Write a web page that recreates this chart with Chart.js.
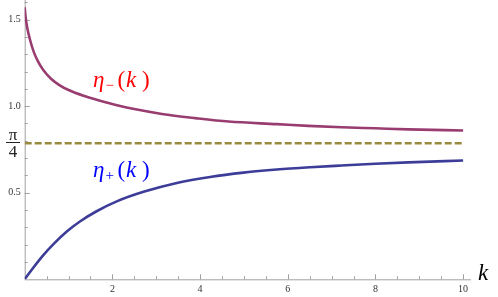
<!DOCTYPE html>
<html>
<head>
<meta charset="utf-8">
<script src="https://cdn.jsdelivr.net/npm/chart.js@4"></script>
<style>
  html, body { margin: 0; padding: 0; background: #ffffff; }
  #wrap { width: 498px; height: 297px; }
</style>
</head>
<body>
<div id="wrap"><canvas id="c" width="498" height="297"></canvas></div>
<script>
// ---- data ----
const kMinus   = [0, 0.02, 0.06, 0.12, 0.2, 0.3, 0.42, 0.6, 0.8, 1.0, 1.34, 1.7, 2.13, 2.5, 3.13, 3.89, 4.65, 5.75, 6.47, 7.23, 8, 8.75, 10];
const etaMinus = [1.571, 1.515, 1.45, 1.385, 1.318, 1.26, 1.21, 1.158, 1.12, 1.093, 1.060, 1.033, 1.004, 0.983, 0.955, 0.931, 0.911, 0.896, 0.886, 0.878, 0.872, 0.866, 0.859];
const kPlus    = [0, 0.2, 0.42, 0.65, 0.96, 1.26, 1.64, 2.1, 2.71, 3.47, 4.23, 4.99, 5.75, 6.51, 7.23, 8, 8.75, 10];
const etaPlus  = [0, 0.068, 0.138, 0.202, 0.276, 0.334, 0.393, 0.450, 0.505, 0.556, 0.591, 0.616, 0.634, 0.647, 0.657, 0.667, 0.675, 0.686];
const kRefLine = [0, 10];
const piQuarterValue = Math.PI / 4;
const refLine  = [piQuarterValue, piQuarterValue];

const xMajorTicks  = [2, 4, 6, 8, 10];
const xTickLabels  = ['2', '4', '6', '8', '10'];
const yMajorTicks  = [0.5, 1.0, 1.5];
const yTickLabels  = ['0.5', '1.0', '1.5'];
const xMinorTicks  = [0.5,1,1.5,2.5,3,3.5,4.5,5,5.5,6.5,7,7.5,8.5,9,9.5];
const yMinorTicks  = [0.1,0.2,0.3,0.4,0.6,0.7,0.8,0.9,1.1,1.2,1.3,1.4,1.6];
const xAxisTitle   = 'k';
const seriesLabels = [{eta:'η', sub:'−', at:[1.56, 1.112], color:'#ff0000'},
                      {eta:'η', sub:'+', at:[1.56, 0.592], color:'#0000ff'}];

const pts = (xs, ys) => ys.map((v, i) => ({x: xs[i], y: v}));

const SERIF = '"Liberation Serif"';

const axesPlugin = {
  id: 'mmaAxes',
  beforeDatasetsDraw(chart) {
    const ctx = chart.ctx, xs = chart.scales.x, ys = chart.scales.y;
    const x0 = xs.getPixelForValue(0), y0 = ys.getPixelForValue(0);
    const area = chart.chartArea;
    ctx.save();
    ctx.strokeStyle = '#a0a0a0';
    ctx.lineWidth = 1;
    ctx.beginPath();
    ctx.moveTo(area.left, y0 + 0.5); ctx.lineTo(area.right, y0 + 0.5);
    ctx.moveTo(x0 + 0.5, area.top); ctx.lineTo(x0 + 0.5, area.bottom);
    ctx.stroke();
    ctx.beginPath();
    xMajorTicks.forEach(v => { const p = Math.round(xs.getPixelForValue(v)) + 0.5; ctx.moveTo(p, y0); ctx.lineTo(p, y0 - 5); });
    xMinorTicks.forEach(v => { const p = Math.round(xs.getPixelForValue(v)) + 0.5; ctx.moveTo(p, y0); ctx.lineTo(p, y0 - 3); });
    yMajorTicks.forEach(v => { const p = Math.round(ys.getPixelForValue(v)) + 0.5; ctx.moveTo(x0, p); ctx.lineTo(x0 + 5, p); });
    yMinorTicks.forEach(v => { const p = Math.round(ys.getPixelForValue(v)) + 0.5; ctx.moveTo(x0, p); ctx.lineTo(x0 + 3, p); });
    ctx.stroke();

    ctx.fillStyle = '#333333';
    ctx.font = '10px ' + SERIF;
    ctx.textAlign = 'center'; ctx.textBaseline = 'middle';
    xMajorTicks.forEach((v, i) => ctx.fillText(xTickLabels[i], xs.getPixelForValue(v), y0 + 10));
    ctx.textAlign = 'right';
    yMajorTicks.forEach((v, i) => ctx.fillText(yTickLabels[i], x0 - 4, ys.getPixelForValue(v)));

    // pi/4 tick label as a stacked fraction
    const py = ys.getPixelForValue(piQuarterValue);
    ctx.fillStyle = '#222222';
    ctx.textAlign = 'center';
    ctx.font = '17px ' + SERIF;
    ctx.textBaseline = 'alphabetic';
    ctx.fillText('π', 13, py - 3);
    ctx.fillText('4', 13, py + 14);
    ctx.fillRect(6, Math.round(py) - 1, 14, 1);
    ctx.restore();
  },
  afterDatasetsDraw(chart) {
    const ctx = chart.ctx, xs = chart.scales.x, ys = chart.scales.y;
    ctx.save();
    ctx.textBaseline = 'alphabetic'; ctx.textAlign = 'left';
    seriesLabels.forEach(l => {
      const x = xs.getPixelForValue(l.at[0]);
      const y = ys.getPixelForValue(l.at[1]);
      ctx.fillStyle = l.color;
      ctx.font = 'italic 23px ' + SERIF;
      ctx.fillText(l.eta, x, y);
      ctx.font = '15px ' + SERIF;
      ctx.fillText(l.sub, x + 12.5, y + 3);
      ctx.font = '23px ' + SERIF;
      ctx.fillText('(', x + 24.5, y);
      ctx.font = 'italic 23px ' + SERIF;
      ctx.fillText('k', x + 33, y);
      ctx.font = '23px ' + SERIF;
      ctx.fillText(')', x + 49, y);
    });
    ctx.fillStyle = '#000000';
    ctx.font = 'italic 23px ' + SERIF;
    ctx.fillText(xAxisTitle, 478, 280);
    ctx.restore();
  }
};

new Chart(document.getElementById('c'), {
  type: 'scatter',
  data: {
    datasets: [
      { data: pts(kMinus, etaMinus), showLine: true, borderColor: '#993d71', borderWidth: 2.6,
        pointRadius: 0, cubicInterpolationMode: 'monotone', fill: false },
      { data: pts(kPlus, etaPlus), showLine: true, borderColor: '#3d3d99', borderWidth: 2.6,
        pointRadius: 0, cubicInterpolationMode: 'monotone', fill: false },
      { data: pts(kRefLine, refLine), showLine: true, borderColor: '#998b3d', borderWidth: 2.6,
        borderDash: [7, 3], pointRadius: 0, fill: false }
    ]
  },
  options: {
    responsive: false,
    animation: false,
    events: [],
    layout: { padding: { left: 24.7, right: 27, top: 0, bottom: 17.7 } },
    plugins: { legend: { display: false }, tooltip: { enabled: false } },
    scales: {
      x: { type: 'linear', display: false, min: 0, max: 10.18 },
      y: { type: 'linear', display: false, min: 0, max: 1.613 }
    }
  },
  plugins: [axesPlugin]
});
</script>
</body>
</html>
